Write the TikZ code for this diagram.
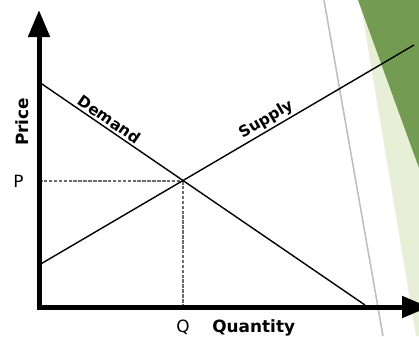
\documentclass[tikz,border=0pt]{standalone}
\usepackage{fontspec}
\setmainfont{DejaVu Sans}
\usepackage{xcolor}
\usepackage{tikz}
\usetikzlibrary{positioning,arrows.meta}

\definecolor{leafdark}{RGB}{115,156,82}
\definecolor{leaflight}{RGB}{231,240,214}
\definecolor{stripgray}{RGB}{190,190,190}

\begin{document}
\begin{tikzpicture}[
    x=0.025cm, y=-0.025cm,
    axis/.style={draw, line width=0.125cm, -{Triangle[length=0.675cm, width=0.525cm]}},
    curve/.style={draw, line width=1pt},
    guide/.style={draw, line width=1.2pt, gray!85!black, dash pattern=on 2.5pt off 1pt},
    curvelabel/.style={font=\fontsize{11}{13}\selectfont\bfseries, sloped, above, inner sep=1.5pt},
    axislabel/.style={font=\fontsize{12}{14}\selectfont\bfseries},
    ticklabel/.style={font=\fontsize{12}{14}\selectfont}
]
\useasboundingbox (0,0) rectangle (419,336);

% Background
\fill[leaflight] (360,0) -- (419,0) -- (419,336) -- (416,336) -- cycle;
\fill[leafdark] (358,0) -- (419,0) -- (419,168) -- cycle;
\draw[stripgray, line width=1.1pt] (324,0) -- (383,336);

% Coordinates
\coordinate (O) at (39,307);
\coordinate (ytop) at (39,10);
\coordinate (xend) at (429,307);
\coordinate (dA) at (39,82);
\coordinate (dB) at (365,305);
\coordinate (sA) at (39,265);
\coordinate (sB) at (414,45);
\coordinate (E) at (183,181);

% Guides
\draw[guide] (E -| O) -- (E);
\draw[guide] (E) -- (E |- O);

% Curves
\draw[curve] (dA) -- node[curvelabel, pos=0.2] {Demand} (dB);
\draw[curve] (sA) -- node[curvelabel, pos=0.62] {Supply} (sB);

% Axes
\draw[axis] ([yshift=-0.0625cm]O) -- (ytop);
\draw[axis] ([xshift=-0.0625cm]O) -- (xend);

% Labels
\node[axislabel, rotate=90] (price) at (22,122) {Price};
\node[ticklabel, left=0.26cm of E -| O] (P) {P};
\node[ticklabel, below=0.2cm of E |- O] (Q) {Q};
\node[axislabel, base right=0.32cm of Q] (quantity) {Quantity};

\end{tikzpicture}
\end{document}
